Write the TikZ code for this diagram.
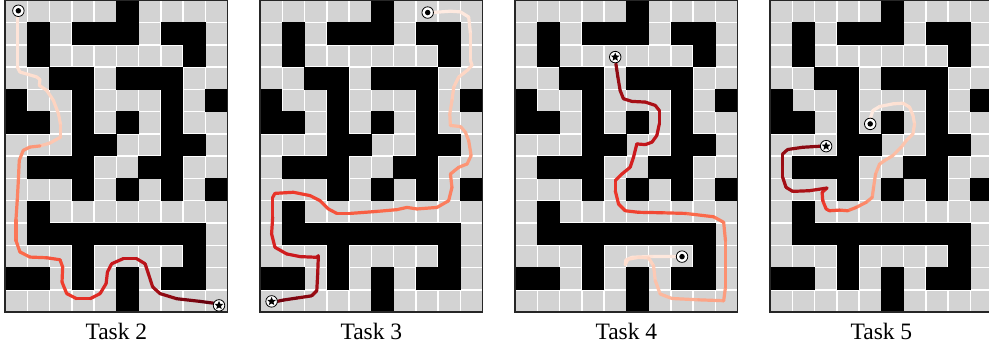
\documentclass[tikz,border=0pt]{standalone}
\usepackage{fontspec}
\setmainfont{Liberation Serif}
\usetikzlibrary{shapes.geometric}
\definecolor{cellgray}{RGB}{211,211,211}
\def\RR{{255,254,252,252,251,239,203,165,103,103}}
\def\GG{{245,224,187,146,106,59,24,15,0,0}}
\def\BB{{240,210,161,114,74,44,29,21,13,13}}
\tikzset{
  trailline/.style={line width=3.2bp, line cap=round, line join=round},
  startmk/.style={circle, draw=black, fill=white, line width=0.8bp, minimum size=11.5bp, inner sep=0pt},
  dotmk/.style={circle, fill=black, minimum size=5.5bp, inner sep=0pt},
  starmk/.style={star, star points=5, star point ratio=2.2, fill=black, minimum size=9bp, inner sep=0pt},
  tasklabel/.style={font=\fontsize{23.5bp}{27bp}\selectfont, anchor=base, inner sep=0pt},
  panel/.style={x=22.27bp, y=-22.27bp}
}
\newcommand\drawmaze{%
  \fill[white] (0,0) rectangle (10,14);
  \foreach \cc in {0,...,9}{\foreach \rr in {0,...,13}{\fill[cellgray] (\cc+0.034,\rr+0.034) rectangle (\cc+0.966,\rr+0.966);}}
  \foreach \rr/\cl in {0/{5},1/{1,3,4,5,7,8},2/{1,8},3/{2,3,5,6,7},4/{0,3,7,9},5/{0,1,3,5,7},6/{3,4,7,8},7/{1,2,3,6,7},8/{3,5,7,9},9/{1},10/{1,2,3,4,5,6,7,8},11/{3,8},12/{0,1,3,5,7,8},13/{5}}{\foreach \cc in \cl {\fill[black] (\cc-0.01,\rr-0.01) rectangle (\cc+1.01,\rr+1.01);}}
  \draw[line width=1.2bp, black!85] (0,0) rectangle (10,14);
}
\newcommand\trail[1]{%
  \foreach \x/\y/\tv [remember=\x as \lx (initially 0), remember=\y as \ly (initially 0), count=\ii] in {#1}{%
    \ifnum\ii>1
      \pgfmathsetmacro\cs{\tv*8}%
      \pgfmathtruncatemacro\ck{floor(\cs)}%
      \pgfmathsetmacro\cf{\cs-\ck}%
      \pgfmathtruncatemacro\ckk{\ck+1}%
      \pgfmathtruncatemacro\cR{round(\RR[\ck]*(1-\cf)+\RR[\ckk]*\cf)}%
      \pgfmathtruncatemacro\cG{round(\GG[\ck]*(1-\cf)+\GG[\ckk]*\cf)}%
      \pgfmathtruncatemacro\cB{round(\BB[\ck]*(1-\cf)+\BB[\ckk]*\cf)}%
      \definecolor{segc}{RGB}{\cR,\cG,\cB}%
      \draw[segc, trailline] (\lx,\ly) -- (\x,\y);
    \fi
  }%
}
\begin{document}
\begin{tikzpicture}
\useasboundingbox (0,0) rectangle (989bp,-348bp);
% ---------- Task 2 ----------
\begin{scope}[shift={(5bp,-0.3bp)}, panel]
  \drawmaze
  \trail{0.55/0.52/0.06, 0.55/2.99/0.10, 0.67/3.22/0.12, 1.42/3.44/0.13, 1.57/3.56/0.14, 1.54/3.82/0.14, 1.87/4.04/0.15, 2.17/4.49/0.16, 2.40/5.09/0.17, 2.50/5.61/0.18, 2.50/6.14/0.20, 2.02/6.41/0.21, 1.57/6.54/0.22, 1.12/6.59/0.36, 0.82/6.74/0.37, 0.64/7.19/0.38, 0.60/8.08/0.40, 0.55/8.98/0.42, 0.49/9.88/0.44, 0.49/10.78/0.46, 0.67/11.30/0.48, 1.12/11.53/0.50, 1.87/11.56/0.53, 2.47/11.65/0.56, 2.59/11.98/0.58, 2.56/12.65/0.60, 2.77/13.17/0.62, 3.22/13.40/0.64, 3.82/13.40/0.66, 4.27/13.17/0.68, 4.54/12.72/0.70, 4.60/12.20/0.72, 4.79/11.83/0.74, 5.31/11.60/0.76, 5.91/11.60/0.78, 6.29/11.83/0.80, 6.44/12.28/0.82, 6.63/12.87/0.85, 6.96/13.17/0.88, 7.71/13.40/0.92, 8.76/13.52/0.96, 9.51/13.62/1.00}
  \node[startmk] (a2) at (0.6,0.47) {};
  \node[dotmk] (a2d) at (a2.center) {};
  \node[startmk] (b2) at (9.61,13.70) {};
  \node[starmk] (b2s) at (b2.center) {};
\end{scope}
% ---------- Task 3 ----------
\begin{scope}[shift={(260bp,-0.3bp)}, panel]
  \drawmaze
  \trail{7.72/0.55/0.05, 8.55/0.49/0.06, 9.00/0.52/0.07, 9.37/0.75/0.08, 9.45/1.50/0.10, 9.45/2.70/0.13, 9.52/2.92/0.14, 9.30/3.15/0.15, 8.92/3.45/0.16, 8.70/3.90/0.18, 8.62/4.50/0.20, 8.52/5.10/0.22, 8.55/5.62/0.24, 9.00/5.67/0.26, 9.22/5.92/0.28, 9.37/6.30/0.30, 9.48/6.97/0.33, 9.30/7.35/0.35, 8.92/7.50/0.37, 8.55/7.80/0.39, 8.62/8.40/0.41, 8.47/9.00/0.43, 7.95/9.30/0.44, 7.05/9.37/0.46, 6.60/9.30/0.47, 6.15/9.40/0.48, 5.25/9.48/0.50, 4.05/9.57/0.53, 3.45/9.57/0.55, 3.07/9.37/0.56, 2.70/9.00/0.58, 2.25/8.77/0.60, 1.50/8.62/0.62, 0.67/8.67/0.64, 0.57/8.85/0.65, 0.57/9.75/0.67, 0.52/10.49/0.69, 0.67/11.09/0.71, 1.20/11.39/0.73, 1.80/11.51/0.75, 2.55/11.54/0.77, 2.62/11.47/0.78, 2.59/12.29/0.84, 2.55/13.04/0.88, 2.32/13.27/0.90, 1.65/13.37/0.93, 1.05/13.46/0.96, 0.67/13.54/0.98}
  \node[startmk] (a3) at (7.53,0.55) {};
  \node[dotmk] (a3d) at (a3.center) {};
  \node[startmk] (b3) at (0.52,13.52) {};
  \node[starmk] (b3s) at (b3.center) {};
\end{scope}
% ---------- Task 4 ----------
\begin{scope}[shift={(515bp,-0.3bp)}, panel]
  \drawmaze
  \trail{7.27/11.51/0.06, 6.15/11.50/0.08, 5.25/11.54/0.10, 4.98/11.66/0.11, 4.95/11.87/0.12, 5.07/11.63/0.13, 5.55/11.54/0.14, 6.00/11.57/0.15, 6.22/11.92/0.17, 6.30/12.59/0.20, 6.52/13.19/0.23, 7.05/13.39/0.26, 8.25/13.45/0.29, 9.37/13.49/0.32, 9.45/12.89/0.34, 9.45/10.79/0.38, 9.37/9.97/0.41, 8.92/9.72/0.44, 7.65/9.57/0.50, 6.60/9.54/0.55, 5.55/9.52/0.59, 4.95/9.45/0.61, 4.65/9.15/0.63, 4.50/8.55/0.64, 4.50/8.10/0.65, 4.80/7.80/0.67, 5.17/7.50/0.69, 5.32/7.05/0.72, 5.47/6.45/0.75, 5.85/6.48/0.77, 6.15/6.37/0.78, 6.37/6.07/0.79, 6.48/5.55/0.80, 6.48/4.95/0.82, 6.30/4.72/0.84, 5.85/4.57/0.86, 5.25/4.54/0.87, 4.87/4.42/0.88, 4.72/4.05/0.89, 4.62/3.45/0.90, 4.53/2.85/0.92}
  \node[startmk] (a4) at (7.50,11.51) {};
  \node[dotmk] (a4d) at (a4.center) {};
  \node[startmk] (b4) at (4.50,2.55) {};
  \node[starmk] (b4s) at (b4.center) {};
\end{scope}
% ---------- Task 5 ----------
\begin{scope}[shift={(770bp,-0.3bp)}, panel]
  \drawmaze
  \trail{4.50/5.32/0.04, 4.62/4.95/0.06, 4.92/4.77/0.08, 5.52/4.65/0.10, 5.97/4.62/0.12, 6.27/4.80/0.14, 6.42/5.17/0.15, 6.49/5.55/0.16, 6.42/6.00/0.18, 6.12/6.30/0.20, 5.89/6.60/0.22, 5.52/6.97/0.24, 5.14/7.20/0.26, 4.92/7.35/0.27, 4.74/7.80/0.29, 4.65/8.40/0.31, 4.59/8.85/0.33, 4.32/9.07/0.37, 3.87/9.30/0.41, 3.49/9.45/0.46, 3.12/9.42/0.52, 2.67/9.45/0.57, 2.52/9.37/0.60, 2.37/9.00/0.63, 2.34/8.62/0.66, 2.56/8.43/0.70, 1.77/8.55/0.84, 1.02/8.58/0.86, 0.72/8.40/0.87, 0.57/7.95/0.88, 0.57/7.35/0.89, 0.57/6.90/0.90, 0.79/6.70/0.91, 1.47/6.60/0.92, 2.29/6.55/0.93}
  \node[startmk] (a5) at (4.50,5.55) {};
  \node[dotmk] (a5d) at (a5.center) {};
  \node[startmk] (b5) at (2.52,6.55) {};
  \node[starmk] (b5s) at (b5.center) {};
\end{scope}
% ---------- labels ----------
\node[tasklabel] (t2) at (116.4bp,-339.5bp) {Task 2};
\node[tasklabel] (t3) at (371.4bp,-339.5bp) {Task 3};
\node[tasklabel] (t4) at (626.4bp,-339.5bp) {Task 4};
\node[tasklabel] (t5) at (881.4bp,-339.5bp) {Task 5};
\end{tikzpicture}
\end{document}
